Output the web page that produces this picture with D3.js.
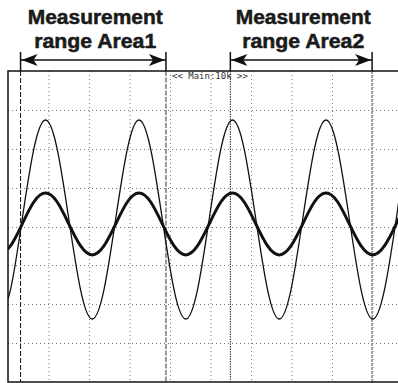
<!DOCTYPE html>
<meta charset="utf-8">
<style>
  body { margin: 0; background: #fff; }
  .grid line { stroke: #777; stroke-width: 1; stroke-dasharray: 1,3; }
  .title { font-family: "Liberation Sans", Arial, sans-serif; font-weight: bold; font-size: 20px;
    fill: #1a1a1a; stroke: #1a1a1a; stroke-width: 0.5px; text-anchor: middle; }
  .tag { font: 9px "DejaVu Sans Mono", monospace; fill: #333; }
</style>
<body>
<script src="https://cdn.jsdelivr.net/npm/d3@7"></script>
<script>
  // time axis in divisions, voltage in divisions
  var timeDiv = [-0.228, 0.060, 0.349, 0.637, 0.926, 1.215, 1.503, 1.792, 2.080,
    2.369, 2.657, 2.946, 3.235, 3.523, 3.812, 4.100, 4.389, 4.678, 4.966, 5.255,
    5.544, 5.832, 6.121, 6.409, 6.698, 6.987, 7.275, 7.564, 7.852, 8.141, 8.430,
    8.718, 9.007, 9.295, 9.584, 9.872, 10.161];
  var bigWave = [-2.38, -1.63, 0.18, 1.99, 2.74, 1.99, 0.18, -1.63, -2.38,
    -1.63, 0.18, 1.99, 2.74, 1.99, 0.18, -1.63, -2.38, -1.63, 0.18, 1.99,
    2.74, 1.99, 0.18, -1.63, -2.38, -1.63, 0.18, 1.99, 2.74, 1.99, 0.18,
    -1.63, -2.38, -1.63, 0.18, 1.99, 2.74];
  var smallWave = [-0.73, -0.50, 0.06, 0.63, 0.86, 0.63, 0.06, -0.50, -0.73,
    -0.50, 0.06, 0.63, 0.86, 0.63, 0.06, -0.50, -0.73, -0.50, 0.06, 0.63,
    0.86, 0.63, 0.06, -0.50, -0.73, -0.50, 0.06, 0.63, 0.86, 0.63, 0.06,
    -0.50, -0.73, -0.50, 0.06, 0.63, 0.86];

  var areaNames = ["Area1", "Area2"];
  var areaStart = [0.31, 5.49];
  var areaEnd = [3.90, 8.99];
  var gridX = [1, 2, 3, 4, 5, 6, 7, 8, 9];
  var gridY = [-3, -2, -1, 0, 1, 2, 3];

  var width = 398, height = 383;

  var svg = d3.select("body").append("svg")
    .attr("width", width)
    .attr("height", height);

  var x = d3.scaleLinear().domain([0, 10]).range([8, 413]);
  var y = d3.scaleLinear().domain([-4, 4]).range([382, 71]);

  svg.append("clipPath").attr("id", "screen")
    .append("rect")
    .attr("x", x(0)).attr("y", y(4))
    .attr("width", x(10) - x(0)).attr("height", y(-4) - y(4));

  // dotted graticule
  var grid = svg.append("g").attr("class", "grid");
  grid.selectAll(".gx").data(gridX).enter().append("line")
    .attr("x1", d => x(d) + 0.5).attr("x2", d => x(d) + 0.5)
    .attr("y1", y(4)).attr("y2", y(-4));
  grid.selectAll(".gy").data(gridY).enter().append("line")
    .attr("x1", x(0)).attr("x2", x(10))
    .attr("y1", d => Math.round(y(d)) + 0.5).attr("y2", d => Math.round(y(d)) + 0.5);

  // cursors
  var cursorStyle = [
    { color: "#111", w: 1, dash: "5,2" },
    { color: "#999", w: 2, dash: "5,1.5" },
    { color: "#222", w: 1, dash: "1.5,1" },
    { color: "#999", w: 1.8, dash: "3,1" }
  ];
  var cursorPos = [areaStart[0], areaEnd[0], areaStart[1], areaEnd[1]];
  svg.selectAll(".cursor").data(cursorPos).enter().append("line")
    .attr("class", "cursor")
    .attr("x1", d => x(d)).attr("x2", d => x(d))
    .attr("y1", y(4)).attr("y2", y(-4))
    .attr("stroke", (d, i) => cursorStyle[i].color)
    .attr("stroke-width", (d, i) => cursorStyle[i].w)
    .attr("stroke-dasharray", (d, i) => cursorStyle[i].dash);

  // waveforms
  var line = d3.line()
    .x((d, i) => x(timeDiv[i]))
    .y(d => y(d))
    .curve(d3.curveNatural);

  var waves = svg.append("g").attr("clip-path", "url(#screen)");
  waves.append("path")
    .attr("d", line(bigWave))
    .attr("fill", "none")
    .attr("stroke", "#111")
    .attr("stroke-width", 1.3);
  waves.append("path")
    .attr("d", line(smallWave))
    .attr("fill", "none")
    .attr("stroke", "#111")
    .attr("stroke-width", 3);

  // frame
  svg.append("rect")
    .attr("x", x(0)).attr("y", y(4))
    .attr("width", x(10) - x(0)).attr("height", y(-4) - y(4))
    .attr("fill", "none")
    .attr("stroke", "#111")
    .attr("stroke-width", 1.5);

  svg.append("text")
    .attr("class", "tag")
    .attr("x", x(4.05))
    .attr("y", y(4) + 8)
    .text("<< Main:10k >>");

  // measurement range arrows and titles
  var arrowY = 60;
  areaNames.forEach(function (name, i) {
    var x0 = x(areaStart[i]), x1 = x(areaEnd[i]);
    var g = svg.append("g");
    g.append("line")
      .attr("x1", x0).attr("x2", x1)
      .attr("y1", arrowY).attr("y2", arrowY)
      .attr("stroke", "#111").attr("stroke-width", 1.6);
    [x0, x1].forEach(function (xe) {
      g.append("line")
        .attr("x1", xe).attr("x2", xe)
        .attr("y1", 52).attr("y2", y(4))
        .attr("stroke", "#111").attr("stroke-width", 1.5);
    });
    var L = 16, H = 6;
    g.append("path")
      .attr("d", "M" + (x0 + 1) + "," + arrowY + "L" + (x0 + 1 + L) + "," + (arrowY - H) +
        "L" + (x0 + L - 3) + "," + arrowY + "L" + (x0 + 1 + L) + "," + (arrowY + H) + "Z")
      .attr("fill", "#111");
    g.append("path")
      .attr("d", "M" + (x1 - 1) + "," + arrowY + "L" + (x1 - 1 - L) + "," + (arrowY - H) +
        "L" + (x1 - L + 3) + "," + arrowY + "L" + (x1 - 1 - L) + "," + (arrowY + H) + "Z")
      .attr("fill", "#111");

    var cx = (x0 + x1) / 2 + 2;
    g.append("text").attr("class", "title")
      .attr("x", cx).attr("y", 24)
      .attr("textLength", 135).attr("lengthAdjust", "spacingAndGlyphs")
      .text("Measurement");
    g.append("text").attr("class", "title")
      .attr("x", cx).attr("y", 48)
      .attr("textLength", 122).attr("lengthAdjust", "spacingAndGlyphs")
      .text("range " + name);
  });
</script>
</body>
